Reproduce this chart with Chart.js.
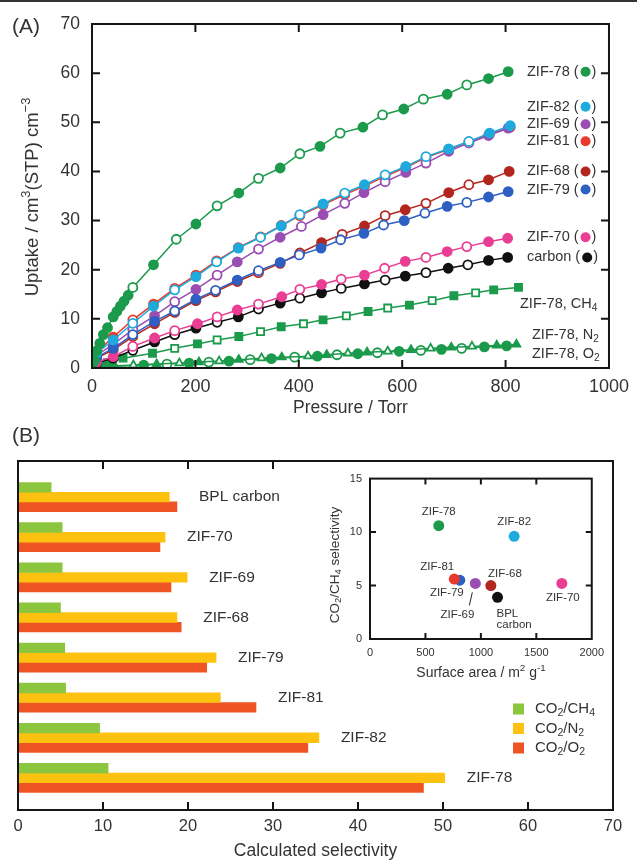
<!DOCTYPE html>
<html lang="en">
<head>
<meta charset="UTF-8">
<title>ZIF uptake and selectivity</title>
<script src="https://cdn.jsdelivr.net/npm/chart.js"></script>
<style>
  body { margin: 0; background: #fff; }
  #page { position: relative; width: 637px; height: 862px; overflow: hidden; }
  #topline { position: absolute; left: 0; top: 0; width: 637px; height: 2px; background: #333; }
  canvas { position: absolute; }
  #chartA { left: 0; top: 0; }
  #chartB { left: 0; top: 420px; }
  #inset { left: 318px; top: 464px; background: #fff; }
</style>
</head>
<body>
<div id="page">
  <canvas id="chartA" width="637" height="420"></canvas>
  <canvas id="chartB" width="637" height="442"></canvas>
  <canvas id="inset" width="293" height="226"></canvas>
  <div id="topline"></div>
</div>

<script>
// ---- panel A: uptake isotherms, [pressure / Torr, uptake / cm3(STP) cm-3] ----
const zif78CO2 = [[0,0],[5,1.5],[9,3.5],[15,5],[22,6.8],[30,8.2],[41,10.4],[48,11.5],[55,12.6],[62,13.6],[70,14.8],[79,16.4],[119,21],[163,26.2],[201,29.3],[242,33],[284,35.6],[322,38.6],[364,40.7],[402,43.6],[441,45.1],[480,47.8],[524,49],[562,51.5],[603,52.7],[641,54.7],[687,55.7],[725,57.6],[767,58.9],[805,60.3]];
const zif82CO2 = [[0,0],[9,3],[41,5.7],[79,9.1],[119,12.6],[160,15.9],[201,18.6],[241,21.6],[283,24.4],[326,26.6],[366,28.9],[402,31.2],[447,33.4],[489,35.6],[527,37.3],[567,39.3],[607,41],[646,43],[690,44.6],[729,46.1],[769,47.8],[809,49.3]];
const zif69CO2 = [[0,0],[9,2.6],[41,4.8],[79,7.8],[121,10.6],[160,13.5],[201,16],[242,18.9],[281,21.6],[322,24.2],[364,26.6],[405,28.8],[447,31.2],[489,33.5],[526,35.7],[567,37.9],[607,39.8],[646,41.7],[690,44.1],[729,45.8],[767,47.3],[805,48.8]];
const zif81CO2 = [[0,0],[9,3.2],[41,6.3],[79,9.8],[119,13],[160,16.2],[201,18.9],[241,21.8],[283,24.5],[326,26.7],[366,29],[402,31],[447,33.2],[489,35.3],[527,37],[567,39],[607,40.8],[646,42.8],[690,44.5],[729,46],[769,47.6],[809,49]];
const zif68CO2 = [[0,0],[9,2],[41,3.7],[79,6.4],[121,9],[160,11.3],[201,13.7],[239,15.5],[281,17.6],[322,19.4],[364,21.3],[402,23.4],[444,25.5],[484,27.2],[527,28.9],[567,31],[606,32.2],[646,33.5],[690,35.7],[729,37.3],[767,38.3],[807,40]];
const zif79CO2 = [[0,0],[9,2.2],[41,4],[79,6.8],[121,9.5],[160,11.6],[201,14],[239,15.8],[281,17.9],[322,19.8],[364,21.5],[401,23],[443,24.4],[481,26.1],[526,27.4],[564,29.1],[604,30],[644,31.5],[687,32.9],[725,33.7],[767,34.8],[805,35.9]];
const zif70CO2 = [[0,0],[9,1.2],[41,2.3],[79,4.4],[121,6.1],[160,7.6],[204,9],[242,10.4],[281,11.8],[322,13],[367,14.5],[402,16],[444,17],[482,18.1],[527,18.9],[566,20.3],[606,21.7],[646,22.5],[687,23.7],[725,24.7],[767,25.7],[804,26.4]];
const carbonCO2 = [[0,0],[9,1],[41,2],[79,3.6],[121,5.3],[160,6.8],[201,8.1],[242,9.3],[283,10.4],[322,12],[364,13.2],[402,14.2],[444,15.3],[482,16.2],[527,17.1],[567,17.9],[606,18.7],[646,19.4],[689,20.3],[727,21],[767,21.9],[804,22.5]];
const zif78CH4 = [[0,0],[10,0.4],[30,1.1],[60,2],[117,3],[160,4],[204,4.9],[242,5.7],[284,6.4],[326,7.4],[366,8.4],[409,9],[447,9.8],[492,10.6],[534,11.5],[572,12.2],[614,12.8],[658,13.7],[700,14.7],[742,15.3],[777,15.9],[825,16.4]];
const zif78N2 = [[0,0],[20,0.3],[80,0.6],[125,0.8],[169,1],[207,1.2],[246,1.4],[284,1.7],[328,2],[367,2.2],[418,2.4],[454,2.7],[495,3],[532,3.2],[572,3.4],[617,3.7],[655,4],[695,4.2],[735,4.4],[783,4.6],[821,4.8]];
const zif78O2 = [[0,0],[40,0.3],[100,0.6],[145,0.8],[188,1],[226,1.2],[265,1.4],[306,1.7],[347,1.9],[392,2.2],[436,2.4],[474,2.7],[514,2.9],[552,3.1],[594,3.4],[636,3.6],[676,3.8],[715,4],[759,4.3],[802,4.5]];

// ---- panel B: calculated selectivity ----
const materials = ['BPL carbon', 'ZIF-70', 'ZIF-69', 'ZIF-68', 'ZIF-79', 'ZIF-81', 'ZIF-82', 'ZIF-78'];
const selCH4 = [3.9, 5.2, 5.2, 5.0, 5.5, 5.6, 9.6, 10.6];
const selN2  = [17.8, 17.3, 19.9, 18.7, 23.3, 23.8, 35.4, 50.2];
const selO2  = [18.7, 16.7, 18.0, 19.2, 22.2, 28.0, 34.1, 47.7];
// inset: surface area / m2 g-1 (same order as materials)
const surfaceArea = [1150, 1730, 950, 1090, 810, 760, 1300, 620];

const pressureTicks = [200, 400, 600, 800];
const uptakeTicks = [10, 20, 30, 40, 50, 60];
const selectivityTicks = [10, 20, 30, 40, 50, 60];

const FONT = '"Liberation Sans", Arial, sans-serif';
const TXT = '#333';
const GREEN = '#1b9a4b';
const plain = v => String(v);

// style table for panel A (index 0 is drawn on top)
const seriesA = [
  { name: 'ZIF-78', pts: zif78CO2, color: GREEN, shape: 'circle', dy: 0, dot: true },
  { name: 'ZIF-82', pts: zif82CO2, color: '#1eaadc', shape: 'circle', dy: -19, dot: true },
  { name: 'ZIF-79', pts: zif79CO2, color: '#2e5fc2', shape: 'circle', dy: -2, dot: true },
  { name: 'ZIF-70', pts: zif70CO2, color: '#ea3d94', shape: 'circle', dy: -1, dot: true },
  { name: 'ZIF-69', pts: zif69CO2, color: '#9a4db2', shape: 'circle', dy: -4, dot: true },
  { name: 'ZIF-81', pts: zif81CO2, color: '#e83a2c', shape: 'circle', dy: 14, dot: true },
  { name: 'ZIF-68', pts: zif68CO2, color: '#b3261e', shape: 'circle', dy: 0, dot: true },
  { name: 'carbon', pts: carbonCO2, color: '#111', shape: 'circle', dy: 0, dot: true },
  { name: [['ZIF-78, CH', ''], ['4', 'sub']], pts: zif78CH4, color: GREEN, shape: 'rect', dy: 17, x: 520 },
  { name: [['ZIF-78, N', ''], ['2', 'sub']], pts: zif78N2, color: GREEN, shape: 'triangle', dy: -9, x: 532 },
  { name: [['ZIF-78, O', ''], ['2', 'sub']], pts: zif78O2, color: GREEN, shape: 'circle', dy: 8, x: 532 }
];

function fills(pts, color) {
  const n = pts.length;
  return pts.map((p, i) => (i < n - 1 && (n - i) % 2 === 1 && p[0] >= 75) ? '#fff' : color);
}

function drawRich(ctx, parts, x, y, size, align) {
  let w = 0;
  parts.forEach(([t, m]) => {
    ctx.font = (m ? size * 0.7 : size) + 'px ' + FONT;
    w += ctx.measureText(t).width;
  });
  let cx = align === 'center' ? x - w / 2 : (align === 'right' ? x - w : x);
  ctx.textAlign = 'left';
  ctx.textBaseline = 'middle';
  parts.forEach(([t, m]) => {
    ctx.font = (m ? size * 0.7 : size) + 'px ' + FONT;
    const dy = m === 'sup' ? -size * 0.33 : (m === 'sub' ? size * 0.28 : 0);
    ctx.fillText(t, cx, y + dy);
    cx += ctx.measureText(t).width;
  });
  return w;
}

// frame + inward ticks on all four sides
const frameTicks = {
  id: 'frameTicks',
  afterDraw(chart, args, o) {
    const { ctx, chartArea: a, scales: { x, y } } = chart;
    ctx.save();
    ctx.strokeStyle = '#151515';
    ctx.lineWidth = o.width || 2;
    ctx.beginPath();
    (o.xBottom || []).forEach(v => { const p = x.getPixelForValue(v); ctx.moveTo(p, a.bottom); ctx.lineTo(p, a.bottom - o.len); });
    (o.xTop || []).forEach(v => { const p = x.getPixelForValue(v); ctx.moveTo(p, a.top); ctx.lineTo(p, a.top + o.len); });
    (o.yLeft || []).forEach(v => { const p = y.getPixelForValue(v); ctx.moveTo(a.left, p); ctx.lineTo(a.left + o.len, p); });
    (o.yRight || []).forEach(v => { const p = y.getPixelForValue(v); ctx.moveTo(a.right, p); ctx.lineTo(a.right - o.len, p); });
    ctx.stroke();
    ctx.strokeRect(a.left, a.top, a.right - a.left, a.bottom - a.top);
    ctx.restore();
  }
};

const labelsA = {
  id: 'labelsA',
  afterDraw(chart) {
    const { ctx, scales: { y } } = chart;
    ctx.save();
    ctx.fillStyle = TXT;
    drawRich(ctx, [['(A)', '']], 12, 27, 21, 'left');
    seriesA.forEach(s => {
      const last = s.pts[s.pts.length - 1];
      const py = y.getPixelForValue(last[1]) + s.dy;
      if (s.dot) {
        ctx.fillStyle = TXT;
        let w = drawRich(ctx, [[s.name + ' (', '']], 527, py, 14.5, 'left');
        ctx.fillStyle = s.color;
        ctx.beginPath();
        ctx.arc(527 + w + 7, py, 5, 0, Math.PI * 2);
        ctx.fill();
        ctx.fillStyle = TXT;
        drawRich(ctx, [[')', '']], 527 + w + 13, py, 14.5, 'left');
      } else {
        ctx.fillStyle = TXT;
        drawRich(ctx, s.name, s.x, py, 14.5, 'left');
      }
    });
    ctx.translate(33, 197);
    ctx.rotate(-Math.PI / 2);
    ctx.fillStyle = TXT;
    drawRich(ctx, [['Uptake / cm', ''], ['3', 'sup'], ['(STP) cm', ''], ['\u22123', 'sup']], 0, 0, 18.5, 'center');
    ctx.restore();
  }
};

new Chart(document.getElementById('chartA'), {
  type: 'line',
  data: {
    datasets: seriesA.map(s => ({
      data: s.pts.map(p => ({ x: p[0], y: p[1] })),
      borderColor: s.color,
      borderWidth: 1.5,
      pointStyle: s.shape,
      pointRadius: s.shape === 'rect' ? 5 : 4.5,
      pointBorderWidth: 1.8,
      pointBorderColor: s.color,
      pointBackgroundColor: fills(s.pts, s.color),
      tension: 0,
      fill: false
    }))
  },
  options: {
    responsive: false,
    animation: false,
    layout: { padding: { top: 24, right: 24, left: 0, bottom: 0 } },
    plugins: {
      legend: { display: false },
      tooltip: { enabled: false },
      frameTicks: { xBottom: pressureTicks, xTop: pressureTicks, yLeft: uptakeTicks, yRight: uptakeTicks, len: 8 }
    },
    scales: {
      x: {
        type: 'linear', min: 0, max: 1000,
        afterFit: s => { s.height = 52; },
        ticks: { stepSize: 200, maxRotation: 0, padding: 8, color: TXT, font: { family: FONT, size: 18 }, callback: plain },
        grid: { display: false, drawTicks: false },
        border: { display: false },
        title: { display: true, text: 'Pressure / Torr', color: TXT, font: { family: FONT, size: 17.5 }, padding: { top: 0, bottom: 1 } }
      },
      y: {
        min: 0, max: 70,
        afterFit: s => { s.width = 92; },
        ticks: { stepSize: 10, padding: 12, color: TXT, font: { family: FONT, size: 17.5 } },
        grid: { display: false, drawTicks: false },
        border: { display: false }
      }
    }
  },
  plugins: [frameTicks, labelsA]
});

// ---- panel B ----
const barColors = ['#8cc63f', '#fdc210', '#ef5524'];
const legendB = [
  [['CO', ''], ['2', 'sub'], ['/CH', ''], ['4', 'sub']],
  [['CO', ''], ['2', 'sub'], ['/N', ''], ['2', 'sub']],
  [['CO', ''], ['2', 'sub'], ['/O', ''], ['2', 'sub']]
];

const labelsB = {
  id: 'labelsB',
  afterDraw(chart) {
    const { ctx, scales: { x, y } } = chart;
    ctx.save();
    ctx.fillStyle = TXT;
    drawRich(ctx, [['(B)', '']], 12, 16, 21, 'left');
    materials.forEach((m, i) => {
      const top = Math.max(selCH4[i], selN2[i], selO2[i]);
      drawRich(ctx, [[m, '']], x.getPixelForValue(top) + 22, y.getPixelForValue(i), 15.5, 'left');
    });
    legendB.forEach((parts, i) => {
      const py = 289 + i * 19.5;
      ctx.fillStyle = barColors[i];
      ctx.fillRect(513, py - 5.5, 11, 11);
      ctx.fillStyle = TXT;
      drawRich(ctx, parts, 535, py, 15, 'left');
    });
    ctx.restore();
  }
};

new Chart(document.getElementById('chartB'), {
  type: 'bar',
  data: {
    datasets: [selCH4, selN2, selO2].map((vals, k) => ({
      data: vals.map((v, i) => ({ x: v, y: i })),
      backgroundColor: barColors[k],
      borderWidth: 0,
      barThickness: 9.7
    }))
  },
  options: {
    indexAxis: 'y',
    responsive: false,
    animation: false,
    layout: { padding: { top: 41, right: 24, left: 0, bottom: 0 } },
    plugins: {
      legend: { display: false },
      tooltip: { enabled: false },
      frameTicks: { xBottom: selectivityTicks, xTop: [10, 20, 30], len: 8 }
    },
    scales: {
      x: {
        type: 'linear', min: 0, max: 70,
        afterFit: s => { s.height = 52; },
        ticks: { stepSize: 10, maxRotation: 0, padding: 7, color: TXT, font: { family: FONT, size: 16.5 } },
        grid: { display: false, drawTicks: false },
        border: { display: false },
        title: { display: true, text: 'Calculated selectivity', color: TXT, font: { family: FONT, size: 17.5 }, padding: { top: 0, bottom: 0 } }
      },
      y: {
        type: 'linear', min: -0.9, max: 7.8, reverse: true, offset: false, bounds: 'data',
        afterFit: s => { s.width = 18; },
        ticks: { display: false, stepSize: 1 },
        grid: { display: false, drawTicks: false, offset: false },
        border: { display: false }
      }
    }
  },
  plugins: [frameTicks, labelsB]
});

// ---- inset ----
const insetColors = { 'BPL carbon': '#111', 'ZIF-70': '#ea3d94', 'ZIF-69': '#9a4db2', 'ZIF-68': '#b3261e',
  'ZIF-79': '#2e5fc2', 'ZIF-81': '#e83a2c', 'ZIF-82': '#1eaadc', 'ZIF-78': GREEN };
// label offsets from each point, px
const insetLabelPos = { 'ZIF-78': [0, -14], 'ZIF-82': [0, -15], 'ZIF-81': [-17, -12], 'ZIF-79': [-13, 13],
  'ZIF-69': [-18, 31], 'ZIF-68': [14, -12], 'BPL carbon': [0, 0], 'ZIF-70': [1, 14] };

const labelsInset = {
  id: 'labelsInset',
  afterDraw(chart) {
    const { ctx, scales: { x, y } } = chart;
    ctx.save();
    ctx.fillStyle = TXT;
    materials.forEach((m, i) => {
      const px = x.getPixelForValue(surfaceArea[i]);
      const py = y.getPixelForValue(selCH4[i]);
      const off = insetLabelPos[m];
      if (m === 'BPL carbon') {
        drawRich(ctx, [['BPL', '']], px - 1, py + 17, 11.5, 'left');
        drawRich(ctx, [['carbon', '']], px - 1, py + 28, 11.5, 'left');
      } else {
        drawRich(ctx, [[m, '']], px + off[0], py + off[1], 11.5, 'center');
      }
      if (m === 'ZIF-69') {
        ctx.strokeStyle = '#222';
        ctx.lineWidth = 1;
        ctx.beginPath();
        ctx.moveTo(px - 3, py + 9);
        ctx.lineTo(px - 6, py + 22);
        ctx.stroke();
      }
    });
    drawRich(ctx, [['Surface area / m', ''], ['2', 'sup'], [' g', ''], ['-1', 'sup']], 163, 209, 14, 'center');
    ctx.translate(17, 101);
    ctx.rotate(-Math.PI / 2);
    drawRich(ctx, [['CO', ''], ['2', 'sub'], ['/CH', ''], ['4', 'sub'], [' selectivity', '']], 0, 0, 13.5, 'center');
    ctx.restore();
  }
};

new Chart(document.getElementById('inset'), {
  type: 'scatter',
  data: {
    datasets: [{
      data: materials.map((m, i) => ({ x: surfaceArea[i], y: selCH4[i] })),
      pointRadius: 5.5,
      pointBorderWidth: 0,
      pointBackgroundColor: materials.map(m => insetColors[m])
    }]
  },
  options: {
    responsive: false,
    animation: false,
    layout: { padding: { top: 12, right: 19, left: 0, bottom: 0 } },
    plugins: {
      legend: { display: false },
      tooltip: { enabled: false },
      frameTicks: { xBottom: [500, 1000, 1500], xTop: [500, 1000, 1500], yLeft: [5, 10], yRight: [5, 10], len: 6 }
    },
    scales: {
      x: {
        type: 'linear', min: 0, max: 2000,
        afterFit: s => { s.height = 51; },
        ticks: { stepSize: 500, maxRotation: 0, padding: 7, color: TXT, font: { family: FONT, size: 11 }, callback: plain },
        grid: { display: false, drawTicks: false },
        border: { display: false }
      },
      y: {
        min: 0, max: 15,
        afterFit: s => { s.width = 52; },
        ticks: { stepSize: 5, padding: 8, color: TXT, font: { family: FONT, size: 11 } },
        grid: { display: false, drawTicks: false },
        border: { display: false }
      }
    }
  },
  plugins: [frameTicks, labelsInset]
});
</script>
</body>
</html>
